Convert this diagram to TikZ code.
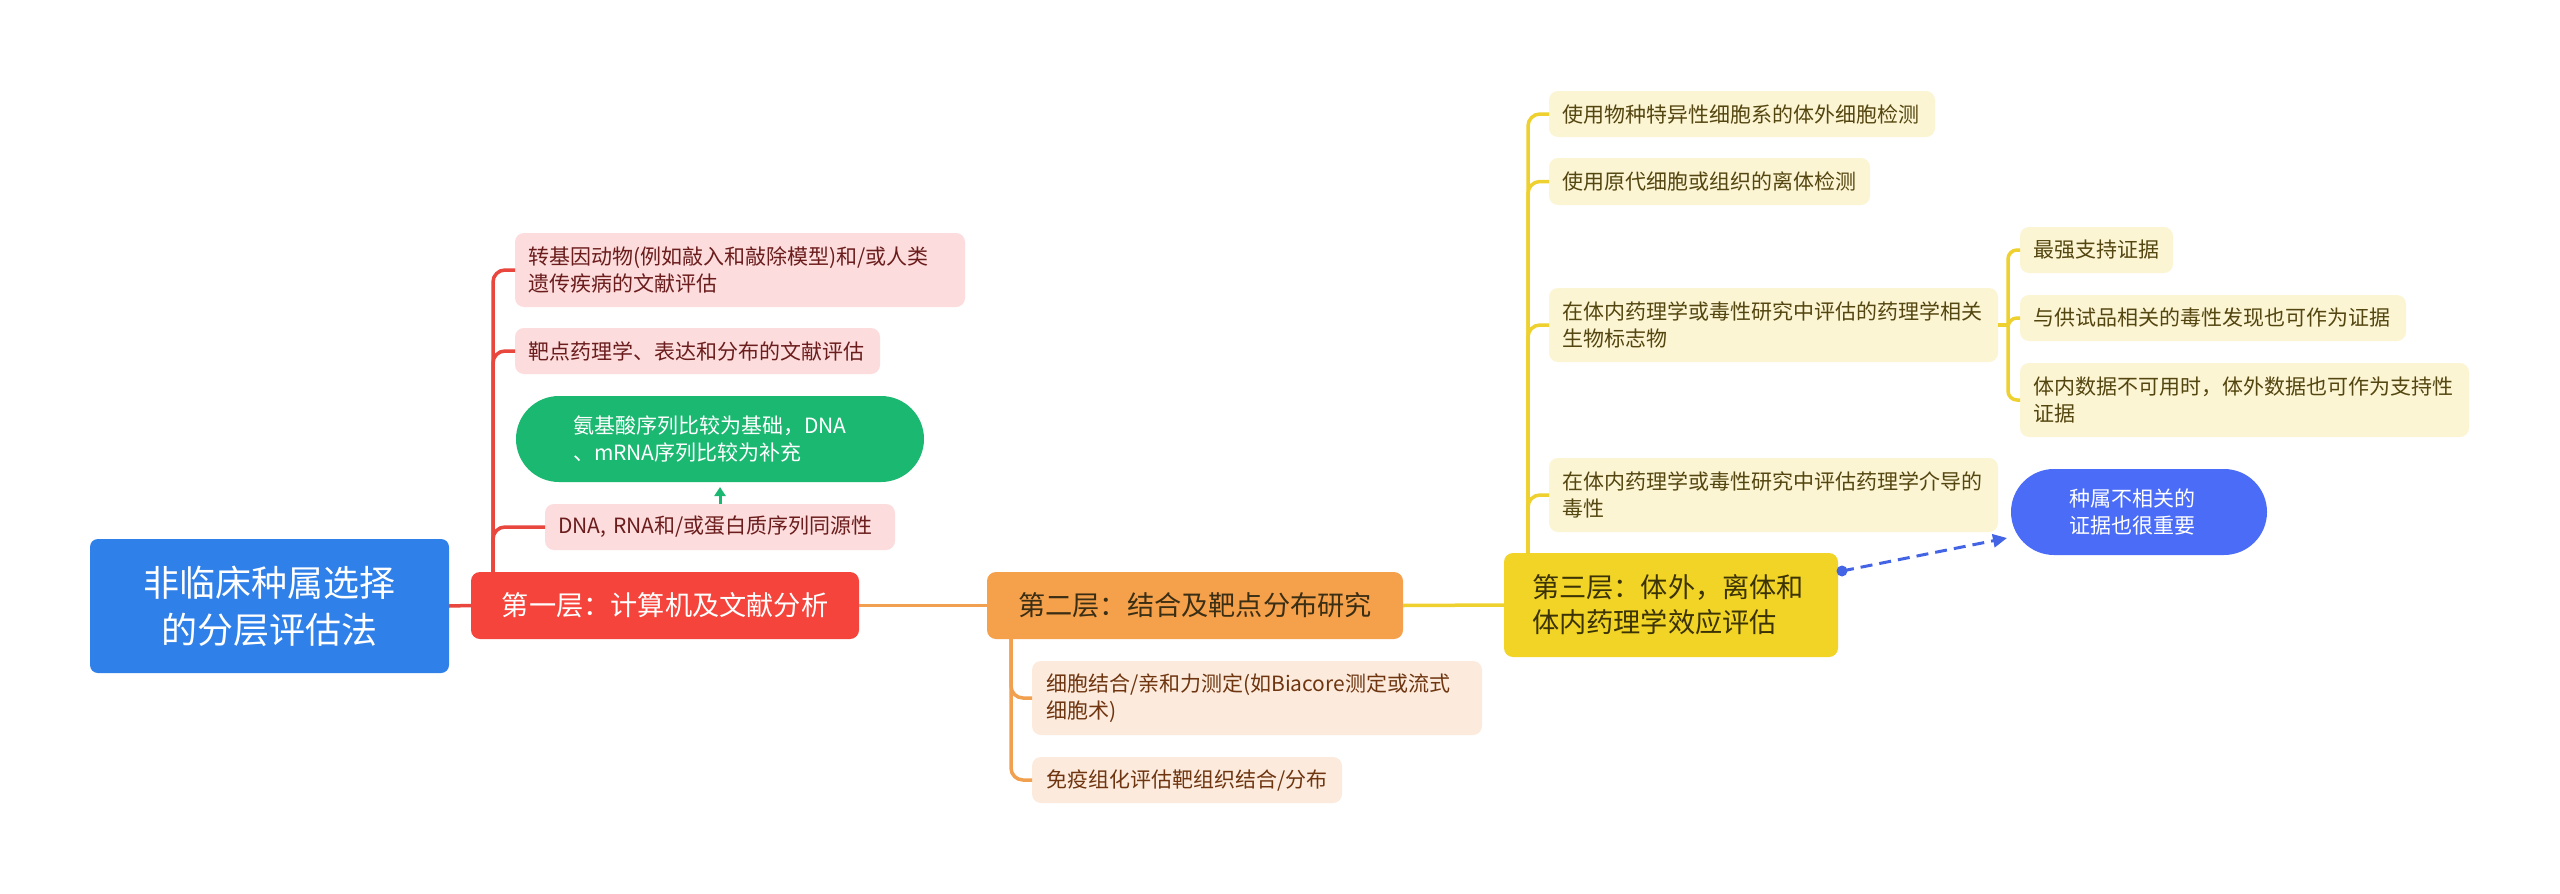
\documentclass[tikz,border=0pt]{standalone}
\usepackage{fontspec}
\setmainfont{Noto Sans CJK SC}
\usetikzlibrary{arrows.meta,calc}
\definecolor{rootblue}{HTML}{2F80E9}
\definecolor{lonered}{HTML}{F5443C}
\definecolor{ltwoorange}{HTML}{F5A04B}
\definecolor{lthreeyellow}{HTML}{F1D426}
\definecolor{cpink}{HTML}{FCDCDC}
\definecolor{ctext}{HTML}{6B1D1D}
\definecolor{dpeach}{HTML}{FCEBDD}
\definecolor{dtext}{HTML}{6E3510}
\definecolor{eyel}{HTML}{FCF5D4}
\definecolor{etext}{HTML}{544610}
\definecolor{gfill}{HTML}{1BB871}
\definecolor{bfill}{HTML}{4A6CF7}
\definecolor{dashblue}{HTML}{4464E6}
\definecolor{redline}{HTML}{E9463E}
\definecolor{orangeline}{HTML}{F0A04E}
\definecolor{yellowline}{HTML}{EED12E}
\definecolor{ltwotext}{HTML}{3A2E14}
\definecolor{lthreetext}{HTML}{3B3305}
\tikzset{
  boxbase/.style={inner ysep=0pt, outer sep=0pt, rounded corners=9pt},
  small/.style={font=\fontsize{21}{27}\selectfont},
  cnode/.style={boxbase, small, fill=cpink, text=ctext, inner xsep=13pt, align=left},
  dnode/.style={boxbase, small, fill=dpeach, text=dtext, inner xsep=14pt, align=left},
  enode/.style={boxbase, small, fill=eyel, text=etext, inner xsep=13pt, align=left},
  rootnode/.style={boxbase, rounded corners=8pt, fill=rootblue, text=white, align=center,
     font=\fontsize{36}{47}\selectfont},
  levelnode/.style={boxbase, font=\fontsize{27.2}{35}\selectfont},
  pillnode/.style={boxbase, small, align=left, text=white},
  link/.style={line width=3.5pt, rounded corners=12pt},
}
\begin{document}
\begin{tikzpicture}[x=1pt,y=-1pt]
\useasboundingbox[fill=white] (0,0) rectangle (2560,894);

% root and levels
\node[rootnode, minimum width=359pt, minimum height=134pt] (root) at (269.5,606) {非临床种属选择\\的分层评估法};
\node[levelnode, fill=lonered, text=white, minimum width=388pt, minimum height=67pt] (L1) at (665,605.5) {第一层：计算机及文献分析};
\node[levelnode, fill=ltwoorange, text=ltwotext, minimum width=416pt, minimum height=67pt] (L2) at (1195,605.5) {第二层：结合及靶点分布研究};
\node[levelnode, fill=lthreeyellow, text=lthreetext, align=left, inner xsep=28pt, text width=278pt, minimum height=104pt] (L3) at (1671,605) {第三层：体外，离体和\\体内药理学效应评估};

% level 1 children
\node[cnode, text width=424pt, minimum height=74pt] (c1) at (740,270) {转基因动物(例如敲入和敲除模型)和/或人类\\遗传疾病的文献评估};
\node[cnode, text width=339pt, minimum height=46pt] (c2) at (697.5,351) {靶点药理学、表达和分布的文献评估};
\node[pillnode, fill=gfill, rounded corners=43pt, inner xsep=57pt, text width=294pt, minimum height=86pt] (green) at (720,439) {氨基酸序列比较为基础，DNA\\、mRNA序列比较为补充};
\node[cnode, text width=324pt, minimum height=46pt] (c4) at (720,527) {DNA, RNA和/或蛋白质序列同源性};

% level 2 children
\node[dnode, text width=422pt, minimum height=74pt] (d1) at (1257,698) {细胞结合/亲和力测定(如Biacore测定或流式\\细胞术)};
\node[dnode, text width=282pt, minimum height=46pt] (d2) at (1187,780) {免疫组化评估靶组织结合/分布};

% level 3 children
\node[enode, text width=360pt, minimum height=46pt] (e1) at (1742,114) {使用物种特异性细胞系的体外细胞检测};
\node[enode, text width=295pt, minimum height=47pt] (e2) at (1709.5,181.5) {使用原代细胞或组织的离体检测};
\node[enode, text width=423pt, minimum height=74pt] (e3) at (1773.5,325) {在体内药理学或毒性研究中评估的药理学相关\\生物标志物};
\node[enode, text width=423pt, minimum height=74pt] (e4) at (1773.5,495) {在体内药理学或毒性研究中评估药理学介导的\\毒性};

% e3 children
\node[enode, text width=127pt, minimum height=46pt] (f1) at (2096.5,250) {最强支持证据};
\node[enode, text width=360pt, minimum height=46pt] (f2) at (2213,318) {与供试品相关的毒性发现也可作为证据};
\node[enode, text width=423pt, minimum height=74pt] (f3) at (2244.5,400) {体内数据不可用时，体外数据也可作为支持性\\证据};

% blue bubble
\node[pillnode, fill=bfill, rounded corners=43pt, inner xsep=58pt, text width=140pt, minimum height=86pt] (blue) at (2139,512) {种属不相关的\\证据也很重要};

% main connectors
\draw[line width=3.5pt, redline] (root.east) -- (L1.west);
\draw[line width=3.5pt, orangeline] (L1.east) -- (L2.west);
\draw[line width=3.5pt, yellowline] (L2.east) -- (L3.west);

% level 1 branch
\coordinate (b1) at ([xshift=22pt]L1.north west);
\foreach \n in {c1,c2,c4} \draw[link, redline] (b1) |- (\n.west);

% level 2 branch
\coordinate (b2) at ([xshift=24pt]L2.south west);
\foreach \n in {d1,d2} \draw[link, orangeline] (b2) |- (\n.west);

% level 3 branch
\coordinate (b3) at ([xshift=24pt]L3.north west);
\foreach \n in {e1,e2,e3,e4} \draw[link, yellowline] (b3) |- (\n.west);

% e3 branch
\coordinate (b4) at ([xshift=10pt]e3.east);
\draw[line width=3.5pt, yellowline] (e3.east) -- (b4);
\foreach \n in {f1,f2,f3} \draw[link, rounded corners=9pt, yellowline] (b4) |- (\n.west);

% small green arrow
\draw[gfill, line width=3pt, -{Triangle[length=9pt,width=11pt]}] (c4.north) -- ([yshift=-5pt]green.south);

% dashed relation
\coordinate (ds) at ([xshift=4pt,yshift=34pt]L3.east);
\coordinate (dt) at ([xshift=-4pt,yshift=-26pt]blue.west);
\draw[dashblue, line width=3pt, dash pattern=on 12pt off 7pt, -{Triangle[length=14pt,width=13pt]}] (ds) -- (dt);
\fill[dashblue] (ds) circle (5.5pt);
\end{tikzpicture}
\end{document}
